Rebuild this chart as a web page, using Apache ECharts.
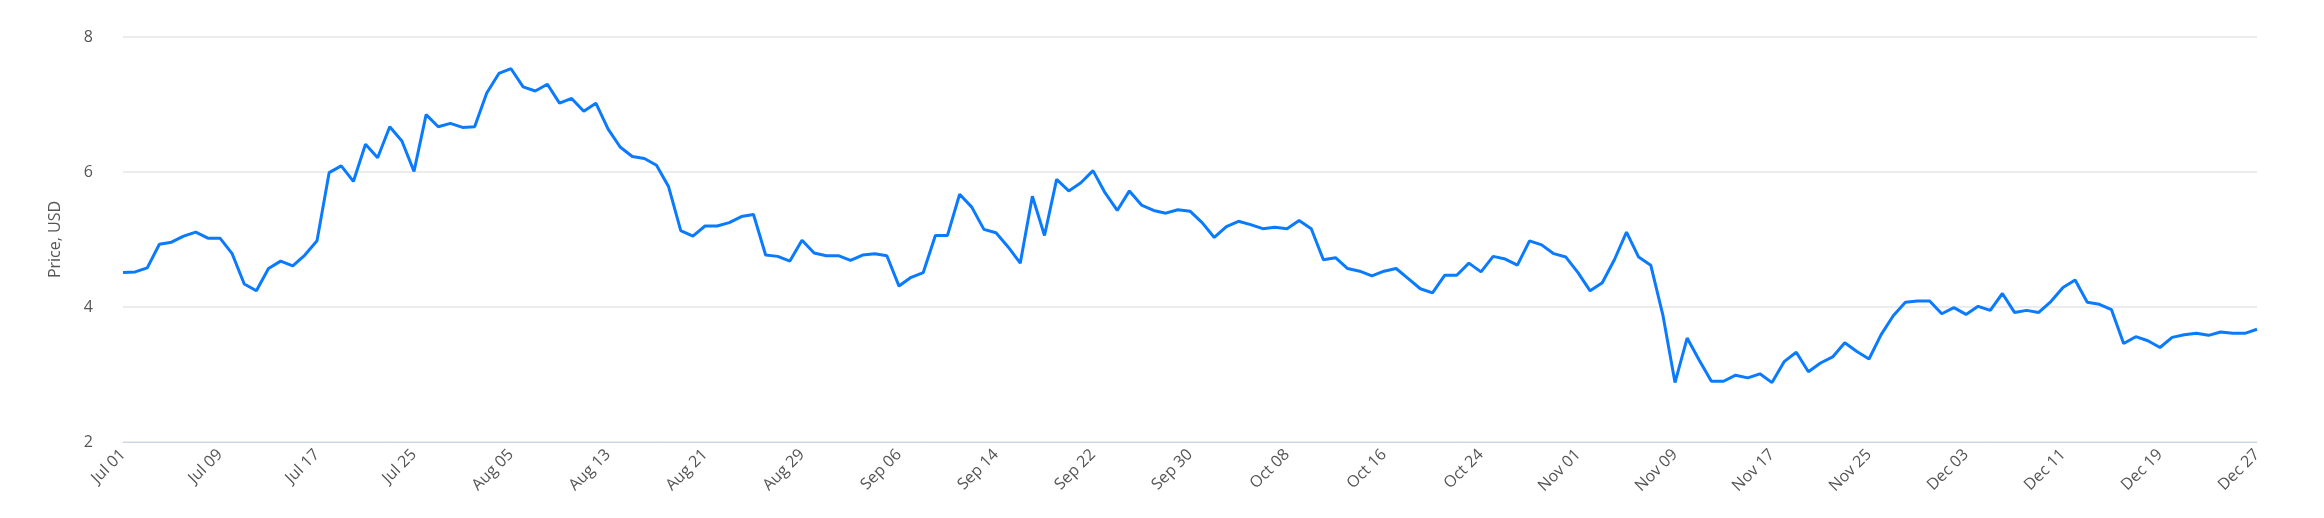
<!DOCTYPE html>
<html><head><meta charset="utf-8">
<script src="https://cdn.jsdelivr.net/npm/echarts@6/dist/echarts.min.js"></script>
<style>html,body{margin:0;padding:0;background:#fff}#c{width:2324px;height:518px}</style>
</head><body><div id="c"></div>
<script>
// Trading dates (daily, with a few missing days in late July)
const missingDays = ['Jul 28', 'Jul 29', 'Jul 30'];
const months = ['Jan','Feb','Mar','Apr','May','Jun','Jul','Aug','Sep','Oct','Nov','Dec'];
const categories = [];
for (let d = new Date(2023, 6, 1); d <= new Date(2023, 11, 27); d.setDate(d.getDate() + 1)) {
  const s = months[d.getMonth()] + ' ' + String(d.getDate()).padStart(2, '0');
  if (!missingDays.includes(s)) categories.push(s);
}
const prices = [
4.51,4.52,4.58,4.93,4.96,5.05,5.11,5.02,5.02,4.79,4.34,4.24,4.57,4.68,4.61,4.77,4.98,
5.99,6.09,5.86,6.41,6.21,6.67,6.46,6.01,6.85,6.67,6.72,6.66,6.67,7.17,7.46,7.53,7.26,7.20,
7.30,7.02,7.09,6.90,7.02,6.64,6.37,6.23,6.20,6.10,5.78,5.13,5.05,5.20,5.20,5.25,5.34,5.37,
4.77,4.75,4.68,4.99,4.80,4.76,4.76,4.69,4.77,4.79,4.76,4.31,4.44,4.51,5.06,5.06,5.67,5.48,
5.15,5.10,4.89,4.65,5.64,5.06,5.89,5.72,5.84,6.02,5.69,5.43,5.72,5.51,5.43,5.39,5.44,5.42,
5.25,5.03,5.19,5.27,5.22,5.16,5.18,5.16,5.28,5.16,4.70,4.73,4.57,4.53,4.46,4.53,4.57,4.42,
4.27,4.21,4.47,4.47,4.65,4.52,4.75,4.71,4.62,4.98,4.92,4.79,4.74,4.51,4.24,4.36,4.70,5.11,
4.74,4.62,3.88,2.88,3.54,3.21,2.90,2.90,2.99,2.95,3.01,2.88,3.19,3.33,3.04,3.17,3.26,3.47,
3.34,3.23,3.59,3.87,4.07,4.09,4.09,3.90,3.99,3.89,4.01,3.95,4.20,3.92,3.95,3.92,4.08,4.29,
4.40,4.07,4.04,3.96,3.46,3.56,3.50,3.40,3.55,3.59,3.61,3.58,3.63,3.61,3.61,3.67
];
const yTicks = { min: 2, max: 8, interval: 2 };
const yName = 'Price, USD';

const chart = echarts.init(document.getElementById('c'));
chart.setOption({
  animation: false,
  grid: { left: 123, right: 67, top: 37, bottom: 76 },
  xAxis: {
    type: 'category', data: categories, boundaryGap: false,
    axisLine: { lineStyle: { color: '#ccd6eb' } },
    axisTick: { show: false },
    axisLabel: { interval: 7, rotate: 45, color: '#555', fontSize: 16, fontFamily: 'Open Sans', margin: 10 }
  },
  yAxis: {
    type: 'value', min: yTicks.min, max: yTicks.max, interval: yTicks.interval,
    name: yName, nameLocation: 'middle', nameGap: 60, nameRotate: 90,
    nameTextStyle: { color: '#555', fontSize: 16, fontFamily: 'Open Sans' },
    axisLabel: { color: '#555', fontSize: 16, fontFamily: 'Open Sans', margin: 30 },
    splitLine: { lineStyle: { color: '#e6e6e6', width: 1.5 } },
    axisLine: { show: false }, axisTick: { show: false }
  },
  series: [{
    type: 'line', data: prices, showSymbol: false,
    lineStyle: { color: '#0a7bff', width: 3 }, itemStyle: { color: '#0a7bff' }
  }]
});
</script></body></html>
